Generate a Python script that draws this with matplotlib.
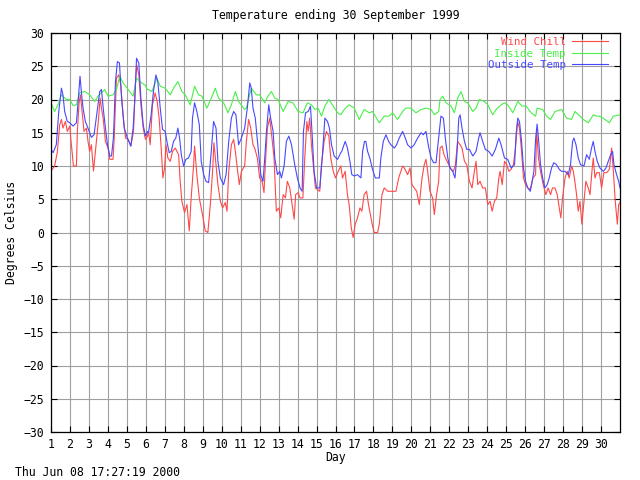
import matplotlib
matplotlib.use("Agg")
from matplotlib import pyplot as plt

plt.rcParams['font.family'] = ['DejaVu Sans Mono']
plt.rcParams['font.size'] = 8.3

# Wind chill (day of month, deg C)
chill_day = [1.00, 1.19, 1.33, 1.46, 1.55, 1.63, 1.76, 1.86, 1.99, 2.04, 2.11, 2.18, 2.34, 2.39, 2.48, 2.55,
             2.64, 2.74, 2.87, 2.95, 3.04, 3.13, 3.24, 3.34, 3.48, 3.59, 3.66, 3.75, 3.87, 4.01, 4.10, 4.27,
             4.33, 4.45, 4.57, 4.68, 4.80, 4.93, 5.07, 5.21, 5.35, 5.45, 5.52, 5.63, 5.74, 5.86, 5.98, 6.09,
             6.14, 6.23, 6.35, 6.49, 6.60, 6.70, 6.81, 6.90, 6.99, 7.06, 7.16, 7.29, 7.41, 7.55, 7.73, 7.81,
             7.90, 8.04, 8.17, 8.29, 8.39, 8.52, 8.57, 8.69, 8.82, 8.92, 9.05, 9.13, 9.27, 9.40, 9.52, 9.59,
             9.70, 9.80, 9.93, 10.05, 10.19, 10.28, 10.37, 10.51, 10.63, 10.72, 10.82, 10.93, 11.04, 11.21,
             11.30, 11.42, 11.53, 11.65, 11.74, 11.88, 12.00, 12.13, 12.23, 12.30, 12.41, 12.53, 12.65, 12.76,
             12.88, 13.01, 13.11, 13.24, 13.36, 13.46, 13.59, 13.71, 13.82, 13.90, 14.03, 14.13, 14.28, 14.38,
             14.49, 14.56, 14.64, 14.73, 14.84, 14.94, 15.17, 15.26, 15.40, 15.52, 15.65, 15.75, 15.88, 16.00,
             16.14, 16.28,
             16.37, 16.51, 16.63, 16.72, 16.83, 16.93, 17.04, 17.16, 17.29, 17.39, 17.51, 17.64, 17.74, 17.87,
             17.95, 18.04, 18.22, 18.31, 18.45, 18.57, 18.75, 19.01, 19.19, 19.33, 19.45, 19.54, 19.63, 19.80,
             19.93, 20.03, 20.15, 20.28, 20.42, 20.56, 20.68, 20.77, 20.86, 20.98, 21.12, 21.21, 21.33, 21.44,
             21.51, 21.62, 21.72, 21.83, 21.97, 22.10, 22.22, 22.32, 22.44, 22.57, 22.67, 22.80, 22.92, 23.06,
             23.20, 23.32, 23.41, 23.50, 23.62, 23.76, 23.90, 24.03, 24.15, 24.26, 24.38, 24.50, 24.61, 24.68,
             24.79, 24.91, 25.03, 25.14, 25.26, 25.38, 25.49, 25.60, 25.70, 25.81, 25.91, 26.02, 26.14, 26.27,
             26.41, 26.55,
             26.60, 26.70, 26.81, 26.95, 27.09, 27.21, 27.34, 27.44, 27.57, 27.69, 27.80, 27.88, 27.97, 28.10,
             28.22, 28.32, 28.45, 28.54, 28.62, 28.71, 28.80, 28.89, 28.99, 29.10, 29.20, 29.33, 29.42, 29.52,
             29.59, 29.68, 29.77, 29.91, 30.03, 30.15, 30.30, 30.44, 30.56, 30.65, 30.75, 30.86, 30.93, 31.00]
chill_temp = [9.25, 10, 12, 16.2, 17, 15.7, 16.7, 15.2, 16, 14.2, 12.2, 10, 10, 15.2, 19.5, 20.7,
              18.2, 15.2, 15.7, 13.7, 12.2, 13.2, 9.25, 12.2, 16.2, 20.2, 18.7, 17.2, 13.7, 12.7, 11, 11,
              14, 23.2, 23.7, 22.2, 17.7, 14.2, 14, 13, 15.2, 22.2, 25.2, 23.7, 19.2, 15.7, 14, 14.5,
              15.2, 13.2, 19.2, 21, 19.7, 17.2, 12.7, 8.2, 9.7, 13.2, 11.2, 10.7, 12.2, 12.7, 11.7, 7.7,
              4.7, 3, 4.2, 0.25, 5.2, 10.2, 13, 8.7, 5.2, 3.7, 1.7, 0.25, 0, 4.2, 9.2, 13.5,
              10.2, 7.2, 4.7, 3.7, 4.5, 3.2, 9.2, 13.2, 14, 12.2, 9.7, 7.2, 9.2, 10,
              13.7, 17, 15.7, 13.2, 12.7, 11.2, 8.2, 7.7, 6, 10.2, 15.7, 17.2, 14.2, 11.2,
              3.2, 3.7, 2.2, 5.7, 5.2, 7.7, 6.7, 4.2, 2, 5.7, 6, 5.2, 5.2, 11.2,
              16.7, 15.2, 17.2, 13.2, 9.7, 6.7, 6.2, 10.2, 13.7, 15.2, 14.5, 11.2, 9.2, 8.2,
              9.2, 10,
              8.2, 9.2, 5.7, 4.2, 0.75, -0.75, 1.25, 2.2, 3.7, 3.2, 5.7, 6.2, 4.2, 2.2,
              1, 0, 0, 1.25, 5.7, 6.7, 6.2, 6.2, 6.2, 8.2, 9.2, 10, 9.7, 8.7,
              9.7, 7.2, 6.7, 6.2, 4.2, 8.2, 10.2, 11, 9.2, 6.2, 5.2, 2.7, 5.7, 7.7,
              12.7, 13, 11.7, 11, 10.2, 9.5, 9.2, 10.2, 13.7, 13.2, 12.7, 10.7, 10.2, 7.7,
              6.7, 9.2, 10.7, 7.2, 7.7, 6.7, 6.7, 4.2, 4.7, 3.2, 4.7, 5.2, 8.2, 9.2,
              7.2, 10.7, 10.2, 9.2, 9.5, 10.2, 12.7, 16.7, 15.7, 12.2, 8.2, 7.2, 6.7, 6.5,
              8.2, 8.7,
              15.5, 11.2, 9.2, 7.2, 5.7, 6.7, 5.7, 6.7, 6.7, 5.7, 3.7, 2.2, 5.2, 8.2,
              9.2, 8.2, 10, 9.2, 7.7, 5.7, 3.2, 4.7, 1.25, 4.7, 7.7, 6.7, 5.7, 9.2,
              11.2, 8.2, 9, 9, 6.7, 9, 9, 9.5, 12.7, 9.2, 4.7, 1.25, 4.2, 4.5]

# Inside temperature
inside_day = [1.00, 1.19, 1.37, 1.55, 1.81, 1.99, 2.16, 2.34, 2.51, 2.78, 3.04, 3.31, 3.48, 3.66, 3.83, 4.01,
              4.27, 4.45, 4.63, 4.80, 5.07, 5.33, 5.51, 5.77, 5.95, 6.09,
              6.14, 6.32, 6.58, 6.76, 7.02, 7.29, 7.46, 7.69, 7.90, 8.08, 8.34, 8.57, 8.78, 8.96, 9.22, 9.45,
              9.66, 9.84, 10.10, 10.33, 10.51, 10.72, 10.89, 11.21,
              11.30, 11.56, 11.83, 12.00, 12.27, 12.44, 12.62, 12.80, 12.97, 13.24, 13.50, 13.76, 14.03, 14.29,
              14.52, 14.73, 14.91, 15.08, 15.26, 15.44, 15.65, 15.88, 16.11, 16.28,
              16.46, 16.72, 16.99, 17.25, 17.51, 17.78, 17.95, 18.31, 18.57, 18.83, 19.01, 19.27, 19.54, 19.71,
              19.98, 20.24, 20.51, 20.77, 21.04, 21.21, 21.44,
              21.51, 21.65, 21.83, 22.09, 22.27, 22.44, 22.62, 22.80, 22.97, 23.24, 23.41, 23.59, 23.85, 24.03,
              24.29, 24.47, 24.73, 24.91, 25.08, 25.35, 25.61, 25.84, 26.05, 26.32, 26.55,
              26.63, 26.92, 27.13, 27.34, 27.57, 27.92, 28.18, 28.45, 28.62, 28.89, 29.06, 29.33, 29.59, 29.77,
              29.94, 30.21, 30.44, 30.65, 31.00]
inside_temp = [19.5, 18.2, 19.2, 20.7, 20, 20, 19.1, 19.2, 21, 21.2, 20.7, 19.7, 20.5, 21, 21.5, 20.5,
               20.7, 21.5, 23.5, 22.5, 21.5, 20.5, 23.2, 22.5, 22.2, 21.5,
               21.5, 21.2, 23.2, 22, 21.7, 20.7, 21.7, 22.7, 21.2, 20.7, 19.2, 22, 20.7, 20.5, 18.7, 20.2,
               21.7, 20.2, 19.5, 18, 19.2, 21.2, 19.7, 18.5,
               18.7, 21.7, 20.7, 20.7, 19.5, 20.5, 21.2, 20.2, 20, 18.2, 19.7, 19.5, 18.2, 18,
               19.5, 19.2, 18.5, 18.7, 17.5, 19, 20, 19, 18, 17.7,
               18.5, 19.2, 18.7, 17, 18.5, 18, 18.2, 16.5, 17.5, 17.5, 18, 17, 18.2, 18.7,
               18.7, 18, 18.5, 18.7, 18.5, 17.7, 18.2,
               20, 20.5, 19.5, 19, 18, 20.2, 21.2, 19.7, 19.5, 18.2, 18.7, 20, 19.7, 19.2,
               17.7, 18.5, 19.2, 19.5, 19.2, 18, 19.7, 19, 19, 18, 17.5,
               18.7, 18.5, 17.5, 17, 18.2, 18.5, 17.2, 17, 18.2, 17.5, 17, 16.5, 17.7, 17.5,
               17.5, 17, 16.5, 17.5, 17.7]

# Outside temperature
outside_day = [1.00, 1.11, 1.28, 1.41, 1.55, 1.63, 1.72, 1.86, 1.99, 2.16, 2.34, 2.43, 2.53, 2.60, 2.69, 2.81,
               2.95, 3.13, 3.27, 3.41, 3.57, 3.66, 3.76, 3.87, 3.98, 4.10, 4.19, 4.29, 4.40, 4.50, 4.61, 4.72,
               4.86, 5.03, 5.21, 5.33, 5.42, 5.51, 5.63, 5.74, 5.86, 5.98, 6.09,
               6.14, 6.28, 6.40, 6.53, 6.63, 6.76, 6.88, 7.02, 7.11, 7.23, 7.34, 7.46, 7.58, 7.69, 7.78, 7.87,
               7.99, 8.11, 8.25, 8.39, 8.46, 8.57, 8.69, 8.82, 8.92, 9.05, 9.17, 9.31, 9.45, 9.57, 9.70, 9.80,
               9.93, 10.10, 10.23, 10.37, 10.51, 10.63, 10.75, 10.89, 11.04, 11.21,
               11.35, 11.48, 11.56, 11.65, 11.77, 11.92, 12.06, 12.18, 12.27, 12.36, 12.48, 12.58, 12.71, 12.80,
               12.94, 13.06, 13.15, 13.29, 13.41, 13.54, 13.68, 13.85, 13.99, 14.13, 14.24, 14.31, 14.42, 14.56,
               14.68, 14.77, 14.87, 15.00, 15.17, 15.30, 15.44, 15.58, 15.68, 15.79, 15.93, 16.11, 16.28,
               16.33, 16.51, 16.63, 16.76, 16.86, 16.99, 17.16, 17.34, 17.43, 17.53, 17.60, 17.69, 17.81, 17.95,
               18.10, 18.31, 18.39, 18.52, 18.66, 18.80, 18.92, 19.10, 19.22, 19.36, 19.54, 19.68, 19.80, 19.98,
               20.15, 20.33, 20.51, 20.63, 20.77, 20.92, 21.04, 21.17, 21.30, 21.44,
               21.56, 21.69, 21.79, 21.92, 22.04, 22.18, 22.30, 22.39, 22.50, 22.57, 22.67, 22.80, 22.92, 23.06,
               23.24, 23.41, 23.55, 23.62, 23.76, 23.90, 24.08, 24.26, 24.43, 24.61, 24.73, 24.91, 25.08, 25.26,
               25.44, 25.52, 25.61, 25.70, 25.81, 25.91, 26.02, 26.14, 26.27, 26.37, 26.46, 26.55,
               26.63, 26.70, 26.81, 26.92, 27.04, 27.16, 27.27, 27.39, 27.51, 27.65, 27.80, 27.92, 28.10, 28.27,
               28.39, 28.50, 28.57, 28.68, 28.80, 28.92, 29.10, 29.24, 29.38, 29.50, 29.59, 29.68, 29.80, 29.94,
               30.12, 30.26, 30.38, 30.51, 30.61, 30.68, 30.82, 30.93, 31.00]
outside_temp = [12.5, 12, 13.2, 18.2, 21.7, 20.7, 18.2, 16.7, 16.5, 16, 16.5, 19.7, 23.5, 21.2, 18.7, 16.7,
                15.7, 14.3, 14.7, 17.7, 21.2, 21.5, 18.5, 15.7, 13.2, 11.5, 11.5, 14.2, 22.7, 25.7, 25.5, 20.2,
                15.7, 14.2, 13, 15.7, 20.2, 26.2, 25.5, 20.2, 16.2, 14.5, 15.2,
                15, 17.7, 21.2, 23.7, 22.7, 18.7, 15.5, 15.2, 13.7, 12, 12.2, 13.7, 14.2, 15.7, 14.2, 11.7,
                10, 11, 11.2, 12.2, 17.2, 19.5, 18.2, 16.2, 10.7, 8.7, 7.7, 7.5, 12.2, 16.7, 15.7, 10.7,
                8.2, 7.2, 8.7, 13.7, 17.2, 18.2, 17.7, 13.2, 14.2, 15.7,
                18.7, 22.5, 21.7, 18.7, 17.2, 12.7, 8.7, 7.7, 11.2, 15.2, 19.2, 17.2, 15.2, 11.2,
                8.7, 9.2, 8.2, 10, 13.7, 14.5, 13.2, 10.2, 8.2, 6.7, 6.2, 15.2, 18, 18.2,
                19, 14.7, 9.2, 6.7, 6.7, 11.2, 17.2, 16.7, 15.7, 13.2, 11.5, 11, 12,
                12.2, 13.7, 12.7, 10.7, 8.7, 8.5, 8.7, 8.2, 12.2, 13.7, 13.7, 12.2, 11.2, 9.5,
                8.2, 8.2, 11.2, 13.7, 14.7, 13.7, 13.2, 12.7, 13.2, 14.2, 15.2, 14.2, 13.2, 12.7,
                13.2, 14.2, 15, 14.7, 15.2, 12.7, 11.2, 10.5, 10.5, 14.2,
                17.5, 17.2, 14.2, 11.2, 9.7, 9.2, 8.2, 11.2, 17.2, 17.7, 15.7, 13.7, 12.5, 12.5,
                11.5, 12.2, 14.2, 15, 13.7, 12.5, 12.2, 11.5, 12.5, 14.2, 13.2, 11.2, 11, 9.7,
                10.2, 14.7, 17.2, 16.7, 13.7, 9.7, 7.7, 6.7, 6.2, 7.7, 9.2, 14,
                16.3, 14.2, 10.2, 8.2, 6.7, 7.2, 8.2, 9.7, 10.5, 10.2, 9.5, 9.2, 9.2, 8.7,
                10.2, 13.7, 14.2, 13.2, 11.2, 10.2, 10, 11.7, 11, 12.7, 13.7, 12.2, 10.7, 9.7,
                9.2, 9.7, 10.7, 11.7, 12.2, 10.2, 8.7, 7.7, 6.7]

day_ticks = list(range(1, 31))
temp_ticks = list(range(-30, 31, 5))

fig = plt.figure(figsize=(6.4, 4.8), dpi=100)
ax = fig.add_axes([51 / 640, 48 / 480, 569 / 640, 399 / 480])

ax.plot(chill_day, chill_temp, color='#ff4848', lw=0.8, label='Wind Chill')
ax.plot(inside_day, inside_temp, color='#48f048', lw=0.8, label='Inside Temp')
ax.plot(outside_day, outside_temp, color='#4848ff', lw=0.8, label='Outside Temp')

ax.set_xlim(1, 31)
ax.set_ylim(-30, 30)
ax.set_xticks(day_ticks)
ax.set_yticks(temp_ticks)
ax.grid(True, color='#a0a0a0', lw=0.8)
ax.set_axisbelow(True)
ax.tick_params(direction='in', length=4, width=0.8, top=True, right=True, colors='black')
ax.tick_params(axis='x', pad=4)
ax.tick_params(axis='y', pad=5)
for s in ax.spines.values():
    s.set_linewidth(0.9)

ax.legend(loc='upper right', bbox_to_anchor=(608 / 640, 1 - 37 / 480), bbox_transform=fig.transFigure,
          frameon=False, markerfirst=False, labelcolor='linecolor', handlelength=3.3,
          handletextpad=0.6, labelspacing=0.15, borderpad=0, borderaxespad=0, fontsize=7.8)

# title and axis names sit over the centre of the plot box, like gnuplot does
fig.text(335.5 / 640, 1 - 15 / 480, 'Temperature ending 30 September 1999', ha='center', va='center')
fig.text(335.5 / 640, 1 - 457 / 480, 'Day', ha='center', va='center')
fig.text(12 / 640, 1 - 232 / 480, 'Degrees Celsius', ha='center', va='center', rotation=90)
fig.text(15 / 640, 1 - 472 / 480, 'Thu Jun 08 17:27:19 2000', ha='left', va='center')

fig.savefig('out.png', dpi=100)
